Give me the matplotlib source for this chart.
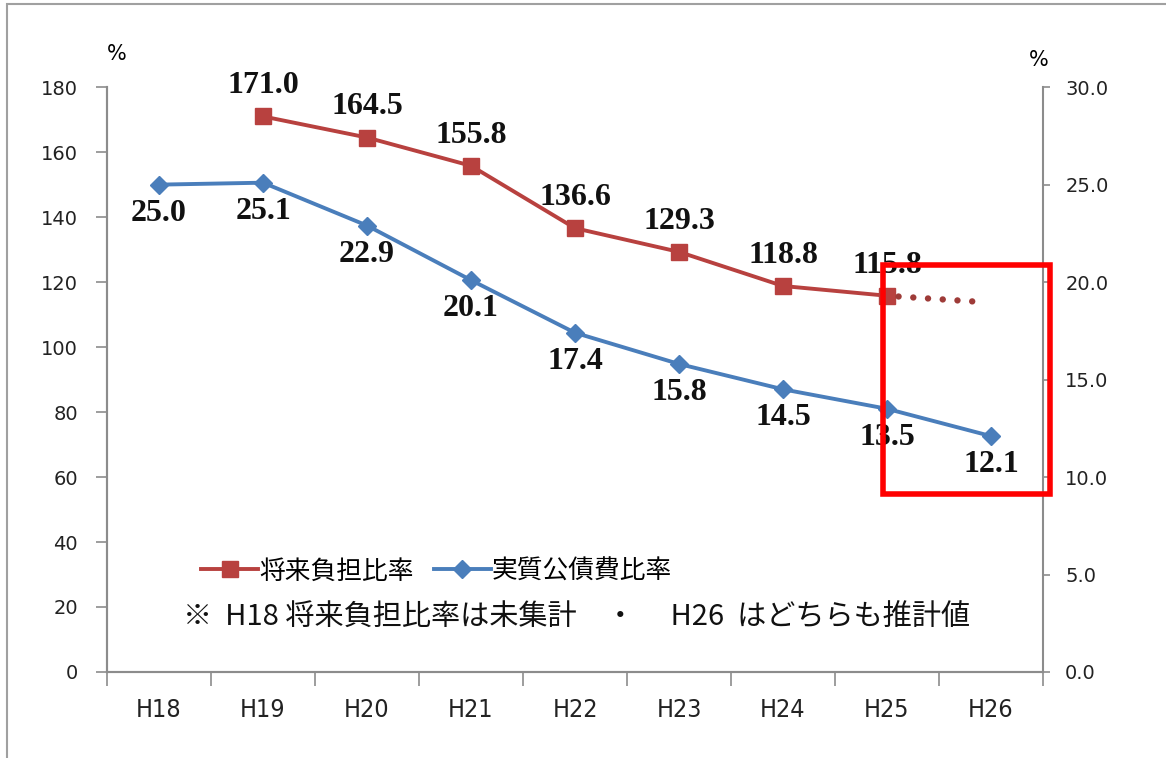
import matplotlib
matplotlib.use("Agg")
import matplotlib.pyplot as plt
from matplotlib.patches import Rectangle

categories = ["H18", "H19", "H20", "H21", "H22", "H23", "H24", "H25", "H26"]
future_burden = [None, 171.0, 164.5, 155.8, 136.6, 129.3, 118.8, 115.8, None]
debt_service = [25.0, 25.1, 22.9, 20.1, 17.4, 15.8, 14.5, 13.5, 12.1]
future_est = [115.8, 114.0]
left_ticks = [0, 20, 40, 60, 80, 100, 120, 140, 160, 180]
right_ticks = [0, 5, 10, 15, 20, 25, 30]

RED = "#B8413F"
BLUE = "#4A7EBB"
GRAY = "#8C8C8C"
CJK = ["Noto Sans CJK JP", "DejaVu Sans"]

fig = plt.figure(figsize=(11.66, 7.58), dpi=100)
ax = fig.add_axes([0.0918, 0.1135, 0.8027, 0.7715])
ax2 = ax.twinx()

x = list(range(len(categories)))
rx = [i for i, v in zip(x, future_burden) if v is not None]
ry = [v for v in future_burden if v is not None]

ax.plot(rx, ry, color=RED, lw=2.8, marker="s", ms=11.5, mfc=RED, mec=RED,
        zorder=3, label="将来負担比率")
ax.plot([rx[-1], rx[-1] + 0.85], future_est, color="#9E3B38", lw=4.6,
        linestyle=(0.5, (0.01, 2.3)), dash_capstyle="round", zorder=3)
ax2.plot(x, debt_service, color=BLUE, lw=2.8, marker="D", ms=9, mfc=BLUE,
         mec=BLUE, zorder=3)
ax.plot([], [], color=BLUE, lw=2.8, marker="D", ms=9, label="実質公債費比率")

lab_font = dict(family=["Liberation Serif", "DejaVu Serif"], fontsize=23,
                fontweight="bold", color="#111111")
for xi, v in zip(rx, ry):
    ax.annotate(f"{v:.1f}", (xi, v), xytext=(0, 22), textcoords="offset points",
                ha="center", va="center", **lab_font)
for xi, v in zip(x, debt_service):
    ax2.annotate(f"{v:.1f}", (xi, v), xytext=(0, -20.5), textcoords="offset points",
                 ha="center", va="center", **lab_font)

ax.set_xlim(-0.5, len(categories) - 0.5)
ax.set_ylim(0, 180)
ax2.set_ylim(0, 30)
ax.set_yticks(left_ticks)
ax2.set_yticks(right_ticks)
ax2.set_yticklabels([f"{t:.1f}" for t in right_ticks])
ax.set_xticks(x)
ax.set_xticklabels(categories)
ax.set_xticks([i - 0.5 for i in range(len(categories) + 1)], minor=True)
ax.tick_params(axis="x", which="major", length=0, pad=19)
ax.tick_params(axis="x", which="minor", length=10, color=GRAY, width=1.2)

for lbl in ax.get_xticklabels():
    lbl.set_family(["DejaVu Sans"])
    lbl.set_fontstretch("condensed")
    lbl.set_fontsize(18)
    lbl.set_color("#222222")
for lbl in ax.get_yticklabels() + ax2.get_yticklabels():
    lbl.set_family(["DejaVu Sans"])
    lbl.set_fontsize(14)
    lbl.set_color("#222222")
ax.tick_params(axis="y", length=8, color=GRAY, width=1.2, pad=13)
ax2.tick_params(axis="y", length=5, color=GRAY, width=1.2, pad=11)

for a in (ax, ax2):
    a.spines["top"].set_visible(False)
    for s in ("left", "right", "bottom"):
        a.spines[s].set_color(GRAY)
        a.spines[s].set_linewidth(1.5)
ax.spines["right"].set_visible(False)

ax.text(0.0, 1.04, "%", transform=ax.transAxes, fontsize=15, ha="left",
        va="bottom", family=["DejaVu Sans"])
ax.text(0.995, 1.03, "%", transform=ax.transAxes, fontsize=15, ha="center",
        va="bottom", family=["DejaVu Sans"])

leg = ax.legend(loc="center left", bbox_to_anchor=(0.076, 0.172), frameon=False,
                ncol=2, handlelength=2.2, handletextpad=0.05, columnspacing=0.8,
                prop={"family": CJK, "size": 18.5})

fig.text(0.157, 0.185, "※  H18 将来負担比率は未集計　・　 H26  はどちらも推計値",
         fontsize=21, family=CJK, va="center", ha="left", color="#111111")

fig.add_artist(Rectangle((0.7573, 0.3483), 0.1432, 0.3021, transform=fig.transFigure,
                         fill=False, edgecolor="#FF0000", lw=4))
fig.add_artist(Rectangle((0.006, -0.02), 1.2, 1.015, transform=fig.transFigure,
                         fill=False, edgecolor="#A0A0A0", lw=1.5))

fig.savefig("out.png", dpi=100)
